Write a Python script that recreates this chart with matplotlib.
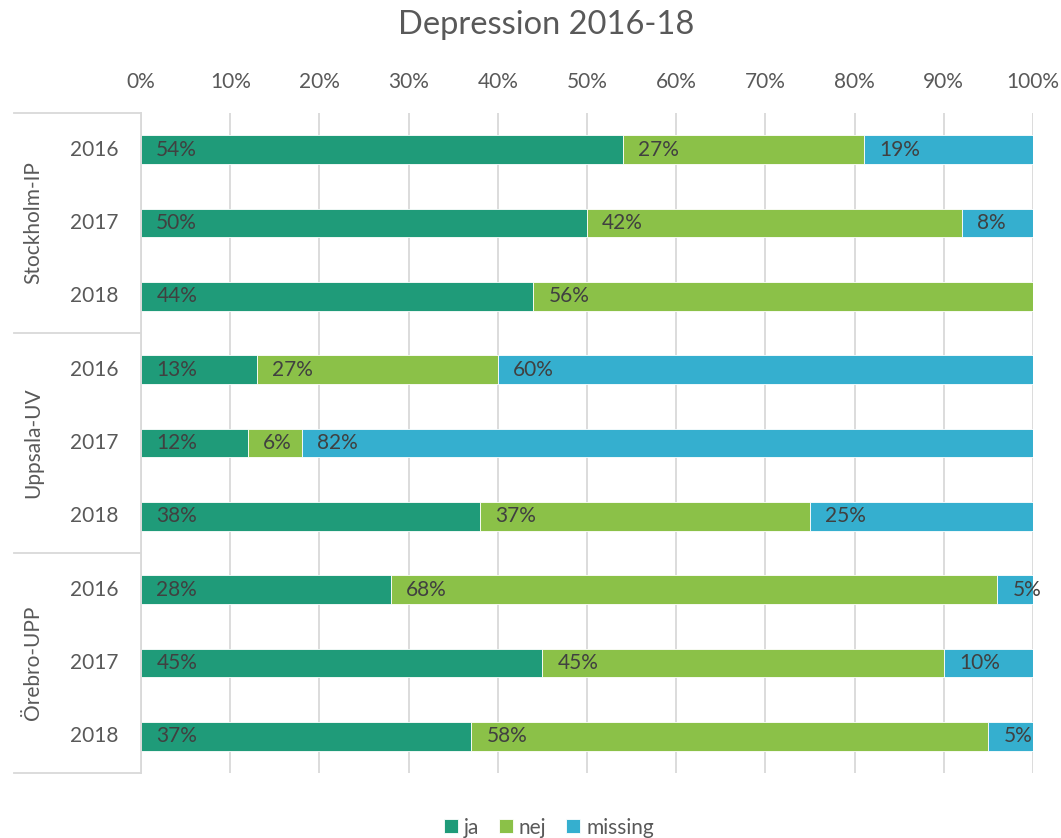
import matplotlib
matplotlib.use("Agg")
import matplotlib.pyplot as plt
import matplotlib.ticker as mticker
import numpy as np

plt.rcParams["font.family"] = ["Lato", "DejaVu Sans"]

TITLE = "Depression 2016-18"
GROUPS = ["Stockholm-IP", "Uppsala-UV", "Örebro-UPP"]
YEARS = ["2016", "2017", "2018"]
SERIES = ["ja", "nej", "missing"]
JA = [54, 50, 44, 13, 12, 38, 28, 45, 37]
NEJ = [27, 42, 56, 27, 6, 37, 68, 45, 58]
MISSING = [19, 8, 0, 60, 82, 25, 5, 10, 5]
COLORS = ["#1f9b79", "#8bc148", "#35afcf"]

TEXT = "#595959"
LABEL = "#404040"
GRID = "#d9d9d9"
FS = 15

fig = plt.figure(figsize=(10.61, 8.38), dpi=100)
ax = fig.add_axes([0.1329, 0.0776, 0.8407, 0.7876])

n_rows = len(GROUPS) * len(YEARS)
y = np.arange(n_rows)
left = np.zeros(n_rows)
for name, vals, color in zip(SERIES, [JA, NEJ, MISSING], COLORS):
    vals = np.array(vals, dtype=float)
    ax.barh(y, vals / 100, left=left / 100, height=0.39, color=color,
            edgecolor="white", linewidth=0.6, label=name, zorder=2)
    for yi, l, v in zip(y, left, vals):
        if v > 0:
            ax.annotate(f"{int(v)}%", (l / 100, yi), xytext=(11, 0),
                        textcoords="offset points", ha="left", va="center",
                        fontsize=FS, color=LABEL, zorder=3)
    left += vals

ax.set_xlim(0, 1)
ax.set_ylim(n_rows - 0.5, -0.5)
ax.xaxis.set_major_locator(mticker.MultipleLocator(0.1))
ax.xaxis.set_major_formatter(mticker.PercentFormatter(1.0, decimals=0))
ax.xaxis.tick_top()
ax.tick_params(axis="x", length=0, pad=15, labelsize=FS, labelcolor=TEXT)
ax.set_yticks([])
ax.grid(axis="x", color=GRID, linewidth=1.3, zorder=0)
for s in ["top", "right", "bottom"]:
    ax.spines[s].set_visible(False)
ax.spines["left"].set_color(GRID)
ax.spines["left"].set_linewidth(1.3)

# category labels: years and rotated group names
trans = ax.get_yaxis_transform()
for i in range(n_rows):
    ax.text(-0.025, i, YEARS[i % len(YEARS)], transform=trans, ha="right",
            va="center", fontsize=FS, color=TEXT)
for g, name in enumerate(GROUPS):
    mid = g * len(YEARS) + (len(YEARS) - 1) / 2
    ax.text(-0.121, mid, name, transform=trans, rotation=90, ha="center",
            va="center", fontsize=FS, color=TEXT)
for g in range(len(GROUPS) + 1):
    yb = g * len(YEARS) - 0.5
    ax.plot([-0.142, 0], [yb, yb], transform=trans, color=GRID,
            linewidth=1.3, clip_on=False)

fig.text(0.5146, 0.97, TITLE, ha="center", va="center", fontsize=23.5,
         color=TEXT)
fig.legend(loc="lower center", bbox_to_anchor=(0.5174, -0.022), ncol=3,
           frameon=False, fontsize=FS, labelcolor=TEXT, handlelength=0.65,
           handleheight=0.65, handletextpad=0.3, columnspacing=0.95)

fig.savefig("out.png", dpi=100)
